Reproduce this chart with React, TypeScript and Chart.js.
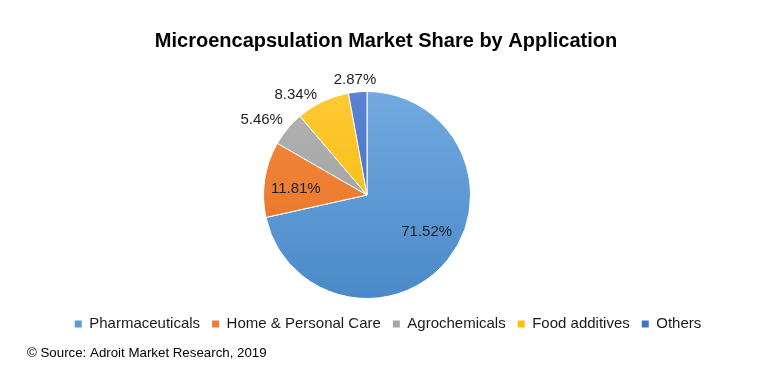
import React, { useEffect, useRef } from "react";
import { Chart, registerables } from "chart.js";

Chart.register(...registerables);

const titleText = "Microencapsulation Market Share by Application";
const sourceText = "© Source: Adroit Market Research, 2019";
const categories = ["Pharmaceuticals", "Home & Personal Care", "Agrochemicals", "Food additives", "Others"];
const shares = [71.52, 11.81, 5.46, 8.34, 2.87];
const baseColors = ["#5B9BD5", "#ED7D31", "#A5A5A5", "#FFC000", "#4472C4"];
const lightColors = ["#72AAE0", "#F68B44", "#B3B3B3", "#FFC935", "#5A84D2"];
const darkColors = ["#4A89C8", "#E46F1E", "#999999", "#F2B700", "#3D68BE"];
// label placement: angle offset (deg) from slice middle, radius factor
const labelAngleOffset = [-6.7, -4, -4.3, -10, -0.8];
const labelRadiusFactor = [0.68, 0.69, 1.25, 1.19, 1.12];

const FONT = "'Liberation Sans', Arial, sans-serif";

const labelPlugin = {
  id: "sliceLabels",
  afterDatasetsDraw(chart: any) {
    const ctx = chart.ctx;
    const meta = chart.getDatasetMeta(0);
    ctx.save();
    ctx.font = `15px ${FONT}`;
    ctx.fillStyle = "#1f1f1f";
    ctx.textAlign = "center";
    ctx.textBaseline = "middle";
    meta.data.forEach((arc: any, i: number) => {
      const { x, y, startAngle, endAngle, outerRadius } = arc.getProps(
        ["x", "y", "startAngle", "endAngle", "outerRadius"],
        true
      );
      const mid = (startAngle + endAngle) / 2 + (labelAngleOffset[i] * Math.PI) / 180;
      const r = outerRadius * labelRadiusFactor[i];
      ctx.fillText(shares[i].toFixed(2) + "%", x + Math.cos(mid) * r, y + Math.sin(mid) * r);
    });
    ctx.restore();
  },
};

const shiftPlugin = {
  id: "shiftBlocks",
  afterLayout(chart: any) {
    const lg = chart.legend;
    if (lg) {
      lg.left += 21;
      lg.right += 21;
      lg.top += 5.5;
      lg.bottom += 5.5;
    }
    const tb = chart.titleBlock;
    if (tb) {
      tb.left += 19;
      tb.right += 19;
    }
  },
};

const sourcePlugin = {
  id: "sourceText",
  afterDraw(chart: any) {
    const ctx = chart.ctx;
    ctx.save();
    ctx.font = `13.3px ${FONT}`;
    ctx.fillStyle = "#000";
    ctx.textAlign = "left";
    ctx.textBaseline = "middle";
    ctx.fillText(sourceText, 27, 353);
    ctx.restore();
  },
};

export default function App() {
  const ref = useRef<HTMLCanvasElement | null>(null);
  useEffect(() => {
    if (!ref.current) return;
    const chart = new Chart(ref.current, {
      type: "pie",
      data: {
        labels: categories,
        datasets: [
          {
            data: shares,
            backgroundColor: (c: any) => {
              const i = c.dataIndex;
              const area = c.chart.chartArea;
              if (!area) return baseColors[i];
              const g = c.chart.ctx.createLinearGradient(0, area.top, 0, area.bottom);
              g.addColorStop(0, lightColors[i]);
              g.addColorStop(1, darkColors[i]);
              return g;
            },
            borderColor: "#ffffff",
            borderWidth: 1,
          },
        ],
      },
      options: {
        animation: false,
        responsive: false,
        maintainAspectRatio: false,
        layout: { padding: { left: 0, right: 27, top: 0, bottom: 49 } },
        plugins: {
          title: {
            display: true,
            text: titleText,
            color: "#000",
            font: { family: FONT, size: 20, weight: "bold" },
            padding: { top: 29, bottom: 38 },
          },
          legend: {
            position: "bottom",
            labels: {
              color: "#1a1a1a",
              font: { family: FONT, size: 15 },
              boxWidth: 7,
              boxHeight: 7,
              padding: 12,
              generateLabels: () =>
                categories.map((t, i) => ({
                  text: t,
                  fillStyle: baseColors[i],
                  strokeStyle: baseColors[i],
                  lineWidth: 0,
                  hidden: false,
                  index: i,
                  fontColor: "#1a1a1a",
                })),
            },
          },
          tooltip: { enabled: false },
        },
      },
      plugins: [labelPlugin, shiftPlugin, sourcePlugin],
    });
    return () => chart.destroy();
  }, []);
  return (
    <div style={{ position: "absolute", left: 0, top: 0, width: 761, height: 385, background: "#fff" }}>
      <canvas ref={ref} width={761} height={385} style={{ width: 761, height: 385 }} />
    </div>
  );
}
